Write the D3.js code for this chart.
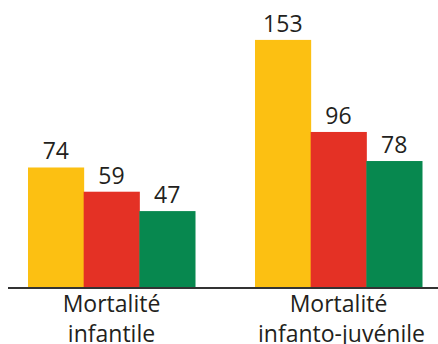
<!DOCTYPE html>
<html>
<head>
<meta charset="utf-8">
<script src="https://cdn.jsdelivr.net/npm/d3@7"></script>
<style>
  html, body { margin: 0; padding: 0; background: #fff; }
  svg { display: block; }
  text { font-family: "Open Sans", "Noto Sans", sans-serif; fill: #231f20; }
</style>
</head>
<body>
<div id="chart"></div>
<script>
const categories = ["Mortalité infantile", "Mortalité infanto-juvénile"];
const categoryLines = [["Mortalité", "infantile"], ["Mortalité", "infanto-juvénile"]];
const seriesNames = ["s1", "s2", "s3"];
const seriesValues = [
  [74, 153],
  [59, 96],
  [47, 78]
];
const colors = ["#fcc012", "#e43125", "#07884f"];

const W = 438, H = 344;
const svg = d3.select("#chart").append("svg").attr("width", W).attr("height", H);

const base = 287;
const y = d3.scaleLinear().domain([0, 160]).range([base, base - 160 * 1.615]);
const x0 = d3.scaleBand().domain(categories).range([28, 422]).paddingInner(0.2643).paddingOuter(0);
const x1 = d3.scaleBand().domain(seriesNames).range([0, x0.bandwidth()]).padding(0);

const data = [];
categories.forEach((c, ci) => {
  seriesNames.forEach((s, si) => {
    data.push({cat: c, ser: s, si: si, value: seriesValues[si][ci]});
  });
});

svg.append("g").selectAll("rect").data(data).join("rect")
  .attr("x", d => x0(d.cat) + x1(d.ser))
  .attr("y", d => y(d.value))
  .attr("width", x1.bandwidth() + 0.5)
  .attr("height", d => y(0) - y(d.value))
  .attr("fill", d => colors[d.si]);

svg.append("g").selectAll("text").data(data).join("text")
  .attr("x", d => x0(d.cat) + x1(d.ser) + x1.bandwidth() / 2)
  .attr("y", d => y(d.value) - 8)
  .attr("text-anchor", "middle")
  .style("font-size", "23px")
  .text(d => d.value);

svg.append("line")
  .attr("x1", 8).attr("x2", W)
  .attr("y1", base + 1).attr("y2", base + 1)
  .attr("stroke", "#333")
  .attr("stroke-width", 2);

const lab = svg.append("g").selectAll("text").data(categories).join("text")
  .attr("x", d => x0(d) + x0.bandwidth() / 2)
  .attr("y", 311.5)
  .attr("text-anchor", "middle")
  .style("font-size", "23px");
lab.each(function(d, i) {
  const t = d3.select(this);
  categoryLines[i].forEach((line, li) => {
    t.append("tspan").attr("x", x0(d) + x0.bandwidth() / 2 + (i === 1 && li === 1 ? 3 : 0))
      .attr("dy", li === 0 ? 0 : 30).text(line);
  });
});
</script>
</body>
</html>
